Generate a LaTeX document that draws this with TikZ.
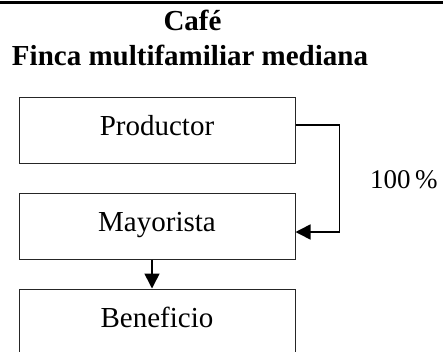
\documentclass[tikz,border=0pt]{standalone}
\usepackage{fontspec}
\setmainfont{Liberation Serif}
\usetikzlibrary{arrows.meta}
\tikzset{
  box/.style={draw=black!85, line width=1pt, minimum width=276pt, minimum height=66pt,
    text height=20pt, text depth=10pt, inner sep=0pt, font=\fontsize{29}{34}\selectfont},
  ttl/.style={anchor=base, inner sep=0pt, font=\fontsize{29}{34}\selectfont\bfseries},
  lbl/.style={anchor=base west, inner sep=0pt, font=\fontsize{27}{32}\selectfont},
  conn/.style={line width=1.6pt, -{Triangle[length=15pt,width=15pt]}}
}
\begin{document}
\begin{tikzpicture}[x=1pt,y=-1pt]
\useasboundingbox (0,0) rectangle (443,351);
\clip (0,0) rectangle (443,351);
\draw[line width=3pt] (0,2) -- (443,2);
\node[ttl] (t1) at (192.5,30) {Café};
\node[ttl] (t2) at (190,65) {Finca multifamiliar mediana};
\node[box] (prod) at (157,130) {Productor};
\node[box] (may) at (157,226) {Mayorista};
\node[box] (ben) at (157,322) {Beneficio};
\node[lbl] (pct) at (370,188) {100\,\%};
\draw[conn] ([yshift=5pt]prod.east) -- ++(44,0) |- ([yshift=-6pt]may.east);
\draw[conn] ([xshift=-5pt]may.south) -- ([xshift=-5pt]ben.north);
\end{tikzpicture}
\end{document}
